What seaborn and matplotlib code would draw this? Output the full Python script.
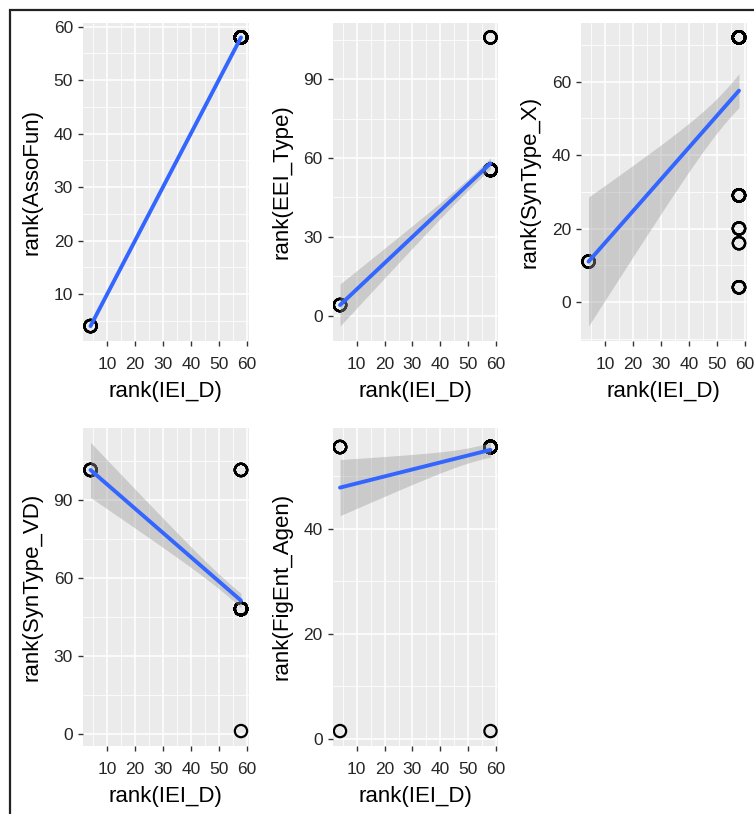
import numpy as np
import pandas as pd
import seaborn as sns
import matplotlib.pyplot as plt
from matplotlib.patches import Rectangle
from matplotlib.ticker import MultipleLocator

# distinct (rank(IEI_D), rank(y)) pairs and how many rows share each pair
asso_x = [4, 58]
asso_y = [4, 58]
asso_n = [7, 101]

eei_x = [4, 58, 58]
eei_y = [4, 55.5, 106]
eei_n = [7, 96, 5]

synx_x = [4, 58, 58, 58, 58, 58]
synx_y = [11, 4, 16, 20, 29, 72]
synx_n = [7, 7, 3, 5, 13, 73]

synvd_x = [4, 58, 58, 58]
synvd_y = [101.5, 1, 48, 101.5]
synvd_n = [7, 1, 93, 7]

fig_x = [4, 4, 58, 58]
fig_y = [1.5, 55.5, 1.5, 55.5]
fig_n = [1, 6, 1, 100]

panels = [
    ("rank(AssoFun)", asso_x, asso_y, asso_n),
    ("rank(EEI_Type)", eei_x, eei_y, eei_n),
    ("rank(SynType_X)", synx_x, synx_y, synx_n),
    ("rank(SynType_VD)", synvd_x, synvd_y, synvd_n),
    ("rank(FigEnt_Agen)", fig_x, fig_y, fig_n),
]
y_steps = [10, 30, 20, 30, 20]
T_975 = 1.983  # t quantile for 95% band, df = 106

sns.set_theme(style="darkgrid", rc={"axes.facecolor": "#EBEBEB",
                                    "grid.color": "white",
                                    "axes.axisbelow": True})
plt.rcParams['font.family'] = ['Liberation Sans', 'DejaVu Sans']

W, H = 754, 814
fig = plt.figure(figsize=(W / 100, H / 100), dpi=100)
fig.patch.set_facecolor('white')
fig.patches.append(Rectangle((10 / W, -0.1), 1.2, 1.1 - 10 / H, fill=False,
                             lw=1.6, ec='#222222', transform=fig.transFigure))

# panel boxes in pixels: left, top
boxes = [(83, 23), (332.5, 23), (581, 23), (83, 428), (332.5, 428)]
pw, ph = 165.5, 317.5

for (ylab, xs, ys, ns), step, (l, t) in zip(panels, y_steps, boxes):
    ax = fig.add_axes([l / W, 1 - (t + ph) / H, pw / W, ph / H])
    df = pd.DataFrame({'x': np.repeat(xs, ns), 'y': np.repeat(ys, ns)})

    # linear fit with t-based 95% confidence band (like geom_smooth(method='lm'))
    b, a = np.polyfit(df.x, df.y, 1)
    n = len(df)
    resid = df.y - (a + b * df.x)
    s = np.sqrt((resid ** 2).sum() / (n - 2))
    xm = df.x.mean()
    xg = np.linspace(df.x.min(), df.x.max(), 100)
    se = s * np.sqrt(1 / n + (xg - xm) ** 2 / ((df.x - xm) ** 2).sum())
    fit = a + b * xg
    lo, hi = fit - T_975 * se, fit + T_975 * se

    sns.regplot(data=df, x='x', y='y', ax=ax, ci=None, truncate=True,
                scatter_kws={'facecolors': 'none', 'edgecolors': 'black', 's': 78,
                             'linewidths': 1.6, 'alpha': 1, 'zorder': 1},
                line_kws={'color': '#3366FF', 'lw': 2.8, 'zorder': 3})
    ax.fill_between(xg, lo, hi, color='#999999', alpha=0.4, lw=0, zorder=2)

    ylo = min(df.y.min(), lo.min())
    yhi = max(df.y.max(), hi.max())
    ax.set_ylim(ylo - 0.05 * (yhi - ylo), yhi + 0.05 * (yhi - ylo))
    xlo, xhi = df.x.min(), df.x.max()
    ax.set_xlim(xlo - 0.05 * (xhi - xlo), xhi + 0.05 * (xhi - xlo))

    ax.xaxis.set_major_locator(MultipleLocator(10))
    ax.xaxis.set_minor_locator(MultipleLocator(5))
    ax.yaxis.set_major_locator(MultipleLocator(step))
    ax.yaxis.set_minor_locator(MultipleLocator(step / 2))
    ax.grid(which='major', color='white', lw=1.1)
    ax.grid(which='minor', color='white', lw=0.55)
    ax.tick_params(which='major', length=3.6, width=1, color='#333333',
                   labelsize=12.5, labelcolor='#262626',
                   bottom=True, left=True)
    ax.tick_params(axis='x', which='major', pad=8.5)
    ax.tick_params(axis='y', which='major', pad=3.6)
    ax.tick_params(which='minor', length=0)
    for sp in ax.spines.values():
        sp.set_visible(False)

    ax.set_xlabel('rank(IEI_D)', fontsize=16, color='black', labelpad=6)
    ax.set_ylabel(ylab, fontsize=16, color='black', labelpad=8)

fig.savefig('out.png', dpi=100)
